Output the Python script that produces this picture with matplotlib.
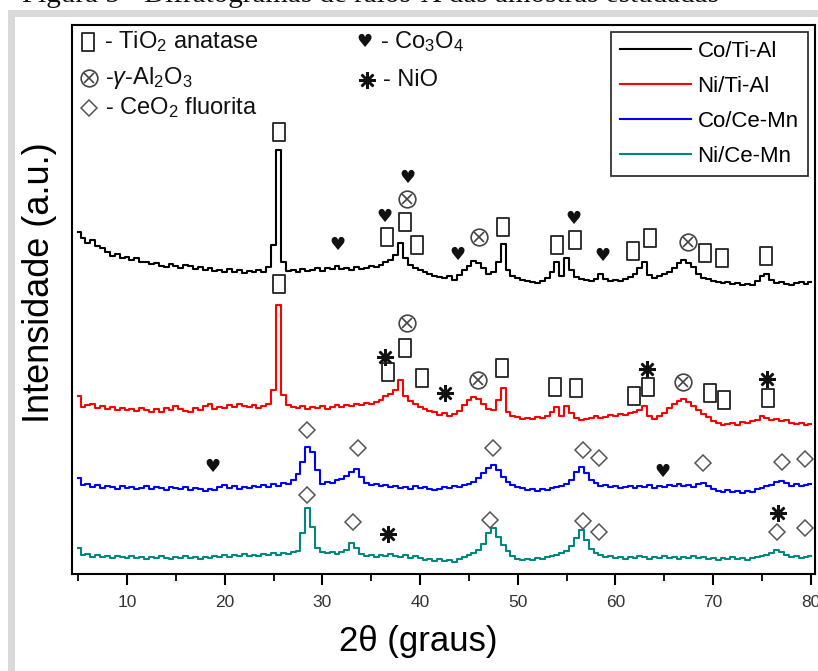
import matplotlib
matplotlib.use("Agg")
import matplotlib.pyplot as plt
import numpy as np
from matplotlib.path import Path
from matplotlib.patches import Rectangle

plt.rcParams['font.family'] = ['Liberation Sans', 'DejaVu Sans']
plt.rcParams['mathtext.fontset'] = 'custom'
plt.rcParams['mathtext.rm'] = 'Liberation Sans'
plt.rcParams['mathtext.it'] = 'Liberation Sans:italic'

# ---- data (2 theta grid, intensities in a.u., already stacked) ----
two_theta = np.arange(5.0, 80.25, 0.5)

co_ti_al = [342, 336, 331, 334, 328, 326, 322, 318, 320, 316,
            317, 314, 316, 312, 312, 310, 311, 308, 307, 310,
            308, 306, 309, 308, 305, 307, 304, 306, 303, 304,
            302, 305, 302, 304, 301, 303, 302, 304, 302, 307,
            329, 424, 312, 303, 304, 302, 305, 303, 304, 306,
            303, 306, 305, 308, 305, 306, 304, 307, 305, 306,
            308, 307, 309, 312, 314, 319, 331, 316, 309, 306,
            304, 302, 300, 298, 297, 296, 298, 294, 299, 304,
            308, 313, 311, 306, 300, 302, 312, 330, 304, 298,
            296, 294, 293, 292, 291, 293, 296, 302, 312, 298,
            316, 304, 297, 295, 294, 293, 295, 300, 295, 293,
            294, 293, 295, 297, 300, 306, 312, 299, 296, 298,
            300, 302, 306, 311, 314, 311, 307, 300, 296, 295,
            293, 292, 291, 292, 290, 291, 289, 290, 289, 293,
            298, 300, 294, 291, 292, 290, 289, 291, 292, 290,
            292]

ni_ti_al = [178, 167, 169, 170, 166, 168, 165, 167, 164, 166,
            164, 165, 163, 166, 164, 162, 165, 162, 166, 164,
            168, 165, 163, 162, 166, 164, 168, 170, 165, 167,
            166, 169, 167, 170, 168, 167, 169, 166, 168, 170,
            184, 269, 179, 169, 167, 166, 168, 165, 167, 166,
            168, 165, 167, 169, 167, 169, 168, 170, 169, 171,
            170, 172, 174, 178, 180, 184, 194, 178, 173, 170,
            167, 165, 163, 162, 159, 161, 158, 160, 163, 169,
            174, 177, 175, 170, 165, 164, 174, 186, 162, 158,
            157, 155, 156, 155, 157, 156, 158, 162, 167, 158,
            168, 161, 156, 154, 155, 156, 158, 156, 157, 159,
            158, 160, 159, 161, 162, 164, 168, 158, 155, 158,
            161, 166, 170, 173, 175, 172, 168, 164, 160, 157,
            153, 151, 149, 150, 151, 149, 152, 151, 153, 154,
            158, 156, 154, 155, 153, 154, 151, 150, 151, 149,
            150]

co_ce_mn = [96, 89, 90, 87, 89, 86, 88, 87, 85, 88,
            86, 87, 85, 86, 88, 85, 87, 86, 84, 87,
            86, 85, 87, 84, 86, 85, 83, 85, 84, 87,
            89, 86, 88, 85, 87, 86, 88, 87, 89, 87,
            90, 88, 91, 90, 94, 100, 112, 127, 122, 104,
            90, 92, 91, 94, 95, 98, 102, 105, 97, 91,
            89, 90, 88, 89, 87, 88, 86, 87, 85, 88,
            86, 87, 85, 84, 85, 87, 86, 88, 87, 89,
            90, 92, 96, 101, 106, 109, 104, 97, 92, 89,
            87, 86, 84, 85, 83, 85, 84, 86, 87, 88,
            90, 94, 102, 107, 101, 94, 91, 88, 89, 87,
            88, 86, 87, 88, 86, 88, 87, 89, 86, 88,
            87, 89, 88, 90, 88, 89, 87, 90, 91, 88,
            85, 83, 82, 84, 82, 83, 81, 83, 82, 85,
            86, 88, 89, 92, 93, 91, 88, 90, 88, 89,
            90]

ni_ce_mn = [26, 19, 20, 17, 19, 17, 18, 16, 18, 17,
            16, 18, 16, 17, 15, 17, 16, 18, 16, 15,
            17, 16, 18, 16, 17, 15, 17, 16, 18, 17,
            19, 17, 19, 18, 20, 18, 19, 18, 20, 19,
            21, 19, 21, 20, 22, 23, 41, 66, 47, 26,
            22, 21, 22, 20, 22, 24, 31, 26, 20, 18,
            19, 17, 19, 18, 20, 18, 17, 19, 16, 18,
            16, 14, 15, 13, 15, 13, 14, 12, 15, 17,
            19, 21, 24, 30, 41, 46, 37, 29, 23, 18,
            15, 14, 15, 14, 16, 15, 17, 18, 19, 21,
            23, 28, 36, 44, 34, 25, 21, 19, 17, 18,
            16, 17, 15, 17, 16, 18, 17, 15, 17, 16,
            18, 16, 17, 15, 17, 16, 18, 16, 17, 15,
            16, 14, 16, 15, 17, 15, 16, 14, 16, 17,
            18, 19, 21, 24, 22, 19, 17, 18, 16, 17,
            18]

series_labels = ['Co/Ti-Al', 'Ni/Ti-Al', 'Co/Ce-Mn', 'Ni/Ce-Mn']
series_colors = ['#000000', '#ff0000', '#0000ff', '#00877f']

# phase marks: (symbol, 2theta, height)
phase_marks = [
    # Co/Ti-Al
    ('sq', 25.6, 442), ('hrt', 31.5, 329), ('hrt', 36.4, 357), ('sq', 36.6, 337),
    ('hrt', 38.7, 396), ('ox', 38.7, 375), ('sq', 38.5, 352), ('sq', 39.7, 329),
    ('hrt', 43.8, 319), ('ox', 46.0, 337), ('sq', 48.5, 347), ('sq', 54.0, 329),
    ('sq', 55.9, 334), ('hrt', 55.7, 355), ('hrt', 58.7, 318), ('sq', 61.8, 323),
    ('sq', 63.5, 336), ('ox', 67.4, 332), ('sq', 69.2, 321), ('sq', 70.9, 316),
    ('sq', 75.4, 318),
    # Ni/Ti-Al
    ('sq', 25.6, 290), ('ast', 36.4, 217), ('sq', 36.7, 202), ('ox', 38.7, 251),
    ('sq', 38.5, 226), ('sq', 40.2, 196), ('ast', 42.5, 181), ('ox', 45.9, 194),
    ('sq', 48.4, 206), ('sq', 53.8, 187), ('sq', 56.0, 186), ('ast', 63.2, 205),
    ('sq', 63.3, 187), ('sq', 61.9, 178), ('ox', 66.9, 192), ('sq', 69.7, 181),
    ('sq', 71.1, 174), ('ast', 75.5, 195), ('sq', 75.6, 176),
    # Co/Ce-Mn
    ('dia', 28.4, 144), ('hrt', 18.7, 107), ('dia', 33.6, 126), ('dia', 47.5, 126),
    ('dia', 56.7, 124), ('dia', 58.3, 116), ('hrt', 64.8, 102), ('dia', 69.0, 111),
    ('dia', 77.0, 112), ('dia', 79.4, 115),
    # Ni/Ce-Mn
    ('dia', 28.4, 79), ('dia', 33.1, 52), ('ast', 36.7, 40), ('dia', 47.2, 54),
    ('dia', 56.7, 53), ('dia', 58.3, 42), ('ast', 76.6, 61), ('dia', 76.5, 42),
    ('dia', 79.4, 46),
]

key_symbols = ['sq', 'ox', 'dia', 'hrt', 'ast']
key_texts = [r'- TiO$_2$ anatase', r'-$\gamma$-Al$_2$O$_3$', r'- CeO$_2$ fluorita',
             r'- Co$_3$O$_4$', '- NiO']

# ---- figure ----
fig = plt.figure(figsize=(8.18, 6.71), dpi=100)
W, H = 818.0, 671.0

# gray page frame from the document screenshot
fig.add_artist(Rectangle((8 / W, 0), 1, 1 - 10 / H, transform=fig.transFigure,
                         facecolor='#d9d9d9', edgecolor='none', zorder=0))
fig.add_artist(Rectangle((15 / W, 0), 1, 1 - 17 / H, transform=fig.transFigure,
                         facecolor='white', edgecolor='none', zorder=0))
fig.text(22 / W, 1 - 2 / H, 'Figura 5 - Difratogramas de raios-X das amostras estudadas',
         family='Liberation Serif', fontsize=21, va='baseline', color='#111')

ax = fig.add_axes([72 / W, 1 - 574 / H, 743 / W, 549 / H])
ax.set_zorder(2)

rect = Path([(-0.32, -0.5), (0.32, -0.5), (0.32, 0.5), (-0.32, 0.5), (-0.32, -0.5)],
            [Path.MOVETO, Path.LINETO, Path.LINETO, Path.LINETO, Path.CLOSEPOLY])


def mark(kind, x, y, tr):
    if kind == 'sq':
        ax.plot(x, y, marker=rect, ms=13, mfc='none', mec='#222', mew=1.3,
                transform=tr, clip_on=False)
    elif kind == 'ox':
        ax.plot(x, y, marker='o', ms=12, mfc='none', mec='#444', mew=1.2,
                transform=tr, clip_on=False)
        ax.plot(x, y, marker='x', ms=6.5, mec='#444', mew=1.2,
                transform=tr, clip_on=False)
    elif kind == 'dia':
        ax.plot(x, y, marker='D', ms=8.5, mfc='none', mec='#555', mew=1.1,
                transform=tr, clip_on=False)
    elif kind == 'ast':
        ax.plot(x, y, marker=(8, 2, 0), ms=12, mec='#111', mew=1.8,
                transform=tr, clip_on=False)
    elif kind == 'hrt':
        ax.text(x, y, '\u2665', family='DejaVu Sans', fontsize=13, color='#111',
                ha='center', va='center', transform=tr)


for vals, lab, col in zip([co_ti_al, ni_ti_al, co_ce_mn, ni_ce_mn], series_labels, series_colors):
    ax.plot(two_theta, vals, color=col, lw=1.5, label=lab, drawstyle='steps-mid')

for kind, x, y in phase_marks:
    mark(kind, x, y, ax.transData)

# symbol key, top left
key_pos = [(88, 42), (89, 78), (89, 108), (364, 42), (367, 80)]
for (px, py), kind, txt in zip(key_pos, key_symbols, key_texts):
    xa, ya = (px - 72) / 743, (574 - py) / 549
    mark(kind, xa, ya, ax.transAxes)
    ax.text(xa + 16 / 743, ya, txt, fontsize=17, ha='left', va='center',
            transform=ax.transAxes, color='#111')

leg = ax.legend(loc='upper right', bbox_to_anchor=(0.99, 0.987), borderaxespad=0,
                fontsize=16, handlelength=3.2, labelspacing=0.63, frameon=True,
                fancybox=False, edgecolor='black', borderpad=0.4, handletextpad=0.3)
leg.get_frame().set_linewidth(1.3)
for l in leg.get_lines():
    l.set_linewidth(1.5)

ax.set_xlim(4.37, 80.42)
ax.set_ylim(0, 549)
ax.set_yticks([])
ax.set_xticks(range(10, 81, 10))
ax.set_xticks(range(5, 80, 10), minor=True)
ax.tick_params(axis='x', which='major', direction='out', length=8, width=1.5,
               labelsize=12.5, pad=7, labelcolor='#333')
ax.tick_params(axis='x', which='minor', direction='out', length=5, width=1.3)
for s in ax.spines.values():
    s.set_linewidth(1.5)

fig.text(418 / W, 1 - 641 / H, '2\u03b8 (graus)', fontsize=25, ha='center', va='center')
fig.text(40 / W, 1 - 283 / H, 'Intensidade (a.u.)', fontsize=26, rotation=90,
         ha='center', va='center')

fig.savefig('out.png', dpi=100)
